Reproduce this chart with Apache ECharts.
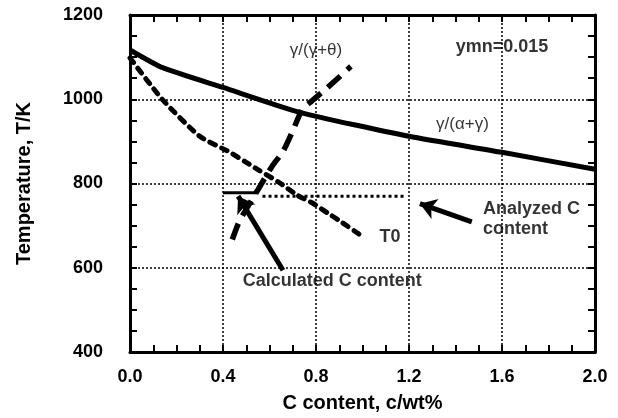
<!DOCTYPE html>
<html>
<head>
<meta charset="utf-8">
<script src="https://cdn.jsdelivr.net/npm/echarts@6/dist/echarts.min.js"></script>
<style>
html,body{margin:0;padding:0;background:#fff}
#graph{width:618px;height:418px}
</style>
</head>
<body>
<div id="graph"></div>
<script>
// gamma/(alpha+gamma), solid
var alphaGammaX = [0, 0.14, 0.4, 0.73, 1.2, 1.6, 2.0]
var alphaGammaT = [1117, 1075, 1028, 969, 912, 874, 834]
// T0, short dashes
var t0X = [0, 0.14, 0.3, 0.43, 0.5, 0.55, 0.64, 0.72, 0.79, 0.85, 0.9, 0.99]
var t0T = [1098, 999, 912, 874, 850, 833, 803, 772, 752, 730, 712, 678]
// gamma/(gamma+theta), long dashes
var gammaThetaX = [0.44, 0.47, 0.55, 0.61, 0.66, 0.70, 0.74, 0.78, 0.85, 0.95]
var gammaThetaT = [667, 710, 785, 840, 878, 925, 975, 995, 1028, 1078]
// calculated C level (solid) and analyzed C level (dotted)
var calcX = [0.4, 0.55]
var calcT = [778, 778]
var analyzedX = [0.57, 1.18]
var analyzedT = [770, 770]
// arrows: tail -> tip
var calcArrow = [[0.658, 594], [0.465, 770]]
var analyzedArrow = [[1.47, 709], [1.247, 752]]
// axes
var xMin = 0, xMax = 2.0, xStep = 0.4
var yMin = 400, yMax = 1200, yStep = 200
// notes
var boldNotes = [[1.6, 1124, 'ymn=0.015'], [1.118, 674, 'T0'], [0.87, 568, 'Calculated C content']]
var analyzedNote = [1.518, 716, 'Analyzed C\ncontent']
var greekNotes = [[0.80, 1115, 'γ/(γ+θ)'], [1.43, 940, 'γ/(α+γ)']]

function zip(xs, ys) {
    return xs.map(function (x, i) { return [x, ys[i]] })
}

var font = 'Liberation Sans'
var boldText = {color: '#000', fontFamily: font, fontWeight: 'bold', fontSize: 18}

function axis(pos, main, min, max, step) {
    return {
        type: 'value',
        position: pos,
        min: min,
        max: max,
        interval: step,
        axisLine: {show: true, onZero: false, lineStyle: {color: '#000', width: 3}},
        axisTick: {show: true, inside: true, length: 7, lineStyle: {color: '#000', width: 2}},
        minorTick: {show: true, splitNumber: 4, length: 7, lineStyle: {color: '#000', width: 2}},
        splitLine: {show: main, lineStyle: {color: '#000', width: 1.5, type: [2, 2]}},
        axisLabel: {show: false}
    }
}

var xBottom = axis('bottom', true, xMin, xMax, xStep)
xBottom.axisLabel = Object.assign({show: true, margin: 16, formatter: function (v) { return v.toFixed(1) }}, boldText)
xBottom.name = 'C content, c/wt%'
xBottom.nameLocation = 'middle'
xBottom.nameGap = 41
xBottom.nameTextStyle = Object.assign({}, boldText, {fontSize: 20})
var xTop = axis('top', false, xMin, xMax, xStep)

var yLeft = axis('left', true, yMin, yMax, yStep)
yLeft.axisLabel = Object.assign({show: true, margin: 27, formatter: function (v) { return String(v) }}, boldText)
yLeft.name = 'Temperature, T/K'
yLeft.nameLocation = 'middle'
yLeft.nameGap = 96
yLeft.nameTextStyle = Object.assign({}, boldText, {fontSize: 20})
var yRight = axis('right', false, yMin, yMax, yStep)

function noteItems(list, extra) {
    return list.map(function (n) {
        return {value: [n[0], n[1]], label: Object.assign({show: true, position: 'inside', formatter: n[2]}, extra)}
    })
}

var chart = echarts.init(document.getElementById('graph'))
chart.setOption({
    animation: false,
    backgroundColor: '#fff',
    grid: {left: 130, right: 23, top: 15, bottom: 64, containLabel: false},
    xAxis: [xBottom, xTop],
    yAxis: [yLeft, yRight],
    series: [
        {
            name: 'alphaGamma', type: 'line', showSymbol: false, smooth: 0.2,
            lineStyle: {color: '#000', width: 5},
            data: zip(alphaGammaX, alphaGammaT)
        },
        {
            name: 'T0', type: 'line', showSymbol: false, smooth: 0.2,
            lineStyle: {color: '#000', width: 5, type: [6, 7], cap: 'round'},
            data: zip(t0X, t0T)
        },
        {
            name: 'gammaTheta', type: 'line', showSymbol: false, smooth: 0.2,
            lineStyle: {color: '#000', width: 5.5, type: [17, 9]},
            data: zip(gammaThetaX, gammaThetaT)
        },
        {
            name: 'calc', type: 'line', showSymbol: false,
            lineStyle: {color: '#000', width: 3},
            data: zip(calcX, calcT)
        },
        {
            name: 'analyzed', type: 'line', showSymbol: false,
            lineStyle: {color: '#000', width: 3, type: [3, 3]},
            data: zip(analyzedX, analyzedT)
        },
        {
            name: 'arrows', type: 'lines', coordinateSystem: 'cartesian2d',
            symbol: ['none', 'arrow'], symbolSize: 16,
            lineStyle: {color: '#000', width: 5, opacity: 1, curveness: 0},
            data: [{coords: calcArrow}, {coords: analyzedArrow}]
        },
        {
            name: 'notes', type: 'scatter', symbolSize: 1,
            itemStyle: {color: 'transparent'},
            data: noteItems(boldNotes, boldText)
                .concat(noteItems([analyzedNote], Object.assign({}, boldText, {align: 'left', lineHeight: 20})))
                .concat(noteItems(greekNotes, {color: '#000', fontFamily: font, fontSize: 17}))
        }
    ]
})
</script>
</body>
</html>
